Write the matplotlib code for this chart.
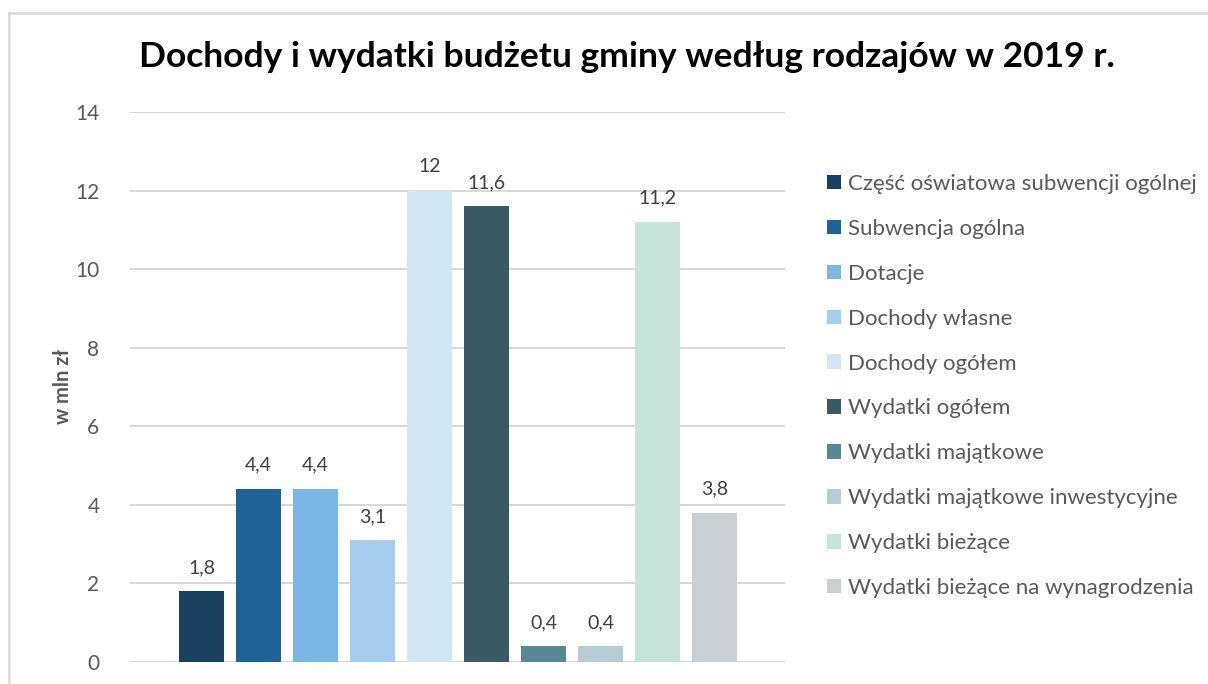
import matplotlib
matplotlib.use("Agg")
import matplotlib.pyplot as plt
from matplotlib.lines import Line2D
from matplotlib.patches import Patch

categories = [
    "Część oświatowa subwencji ogólnej",
    "Subwencja ogólna",
    "Dotacje",
    "Dochody własne",
    "Dochody ogółem",
    "Wydatki ogółem",
    "Wydatki majątkowe",
    "Wydatki majątkowe inwestycyjne",
    "Wydatki bieżące",
    "Wydatki bieżące na wynagrodzenia",
]
values = [1.8, 4.4, 4.4, 3.1, 12, 11.6, 0.4, 0.4, 11.2, 3.8]
labels = ["1,8", "4,4", "4,4", "3,1", "12", "11,6", "0,4", "0,4", "11,2", "3,8"]
colors = ["#17415F", "#1F6297", "#7AB7E4", "#A5CDEE", "#D2E6F4",
          "#3A5A64", "#588893", "#B5CDD3", "#C7E4DA", "#C8D0D3"]
yticks = [0, 2, 4, 6, 8, 10, 12, 14]

W, H = 1208, 684
plt.rcParams['font.family'] = ['Lato', 'DejaVu Sans']
fig = plt.figure(figsize=(W / 100, H / 100), dpi=100)

# border of chart area
fig.add_artist(Line2D([8.5 / W, 1.0], [1 - 12.5 / H, 1 - 12.5 / H], color="#D9D9D9", lw=1.8,
                      transform=fig.transFigure))
fig.add_artist(Line2D([8.5 / W, 8.5 / W], [0, 1 - 12.5 / H], color="#D9D9D9", lw=1.8,
                      transform=fig.transFigure))

left, right, top, bottom = 130, 785, 112, 662
ax = fig.add_axes([left / W, 1 - bottom / H, (right - left) / W, (bottom - top) / H])

pitch = 57.0
x0 = 201.5
for i, (v, c, cat) in enumerate(zip(values, colors, categories)):
    ax.bar(i, v, width=45 / pitch, color=c, label=cat, zorder=3)
for i, (v, lab) in enumerate(zip(values, labels)):
    ax.annotate(lab, (i, v), xytext=(0, 11), textcoords="offset points",
                ha="center", va="bottom", fontsize=14, color="#404040")

ax.set_xlim((left - x0) / pitch, (right - x0) / pitch)
ax.set_ylim(0, 14)
ax.set_yticks(yticks)
ax.set_yticklabels([str(t) for t in yticks], fontsize=15, color="#595959")
ax.tick_params(axis="y", length=0, pad=22)
ax.set_xticks([])
ax.grid(axis="y", color="#D9D9D9", lw=1.5, zorder=0)
for s in ax.spines.values():
    s.set_visible(False)

fig.text(63 / W, 1 - 386 / H, "w mln zł", rotation=90, ha="center", va="center",
         fontsize=14.5, fontweight="bold", color="#595959")

fig.text(627 / W, 1 - 57 / H, "Dochody i wydatki budżetu gminy według rodzajów w 2019 r.",
         ha="center", va="center", fontsize=25.5, fontweight="bold", color="black")

handles = [Patch(facecolor=c, edgecolor="none") for c in colors]
leg = fig.legend(handles, categories, loc="upper left",
                 bbox_to_anchor=(827 / W, 1 - 174 / H), frameon=False,
                 fontsize=16, labelcolor="#595959", handlelength=0.63,
                 handleheight=0.63, handletextpad=0.3, labelspacing=1.12,
                 borderpad=0, borderaxespad=0)

fig.savefig("out.png", dpi=100)
